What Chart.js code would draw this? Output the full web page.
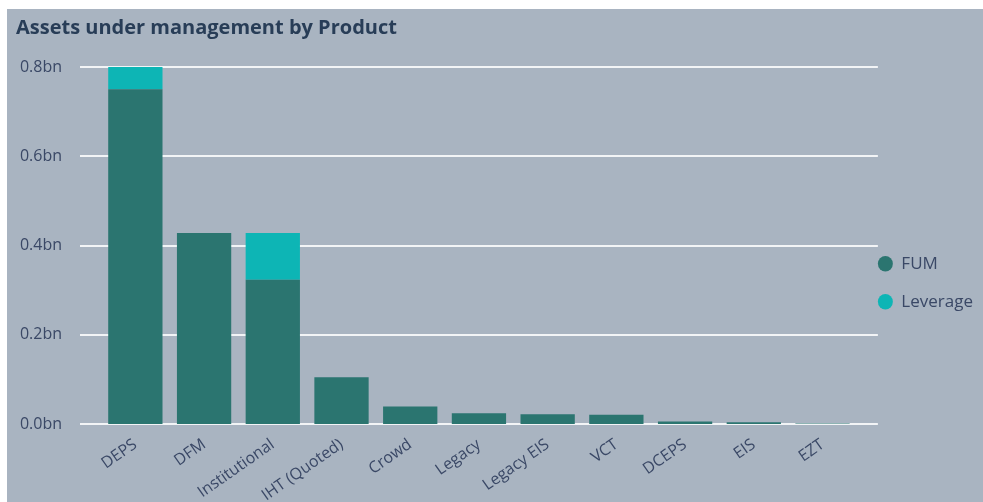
<!DOCTYPE html>
<html>
<head>
<meta charset="utf-8">
<script src="https://cdn.jsdelivr.net/npm/chart.js@4.4.1/dist/chart.umd.min.js"></script>
<style>
  html, body { margin: 0; padding: 0; background: #ffffff; }
  #panel { position: absolute; left: 7px; top: 9px; width: 976px; height: 493px; background: #a9b4c1; }
</style>
</head>
<body>
<div id="panel"><canvas id="myChart" width="976" height="493"></canvas></div>
<script>
// products, values in billions
const products = ['DEPS', 'DFM', 'Institutional', 'IHT (Quoted)', 'Crowd', 'Legacy', 'Legacy EIS', 'VCT', 'DCEPS', 'EIS', 'EZT'];
const fum = [0.75, 0.428, 0.323, 0.105, 0.039, 0.024, 0.022, 0.021, 0.0056, 0.004, 0.001];
const leverage = [0.05, 0, 0.105, 0, 0, 0, 0, 0, 0, 0, 0];
const yTicks = [0, 0.2, 0.4, 0.6, 0.8];

const fontFam = "'Open Sans', sans-serif";

// grid lines in the report run a bit past the bars on both sides
const wideGrid = {
  id: 'wideGrid',
  beforeDatasetsDraw(chart) {
    const ctx = chart.ctx;
    const area = chart.chartArea;
    const y = chart.scales.y;
    ctx.save();
    ctx.strokeStyle = 'rgba(255,255,255,0.85)';
    ctx.lineWidth = 2;
    y.ticks.forEach(function (t) {
      const py = Math.round(y.getPixelForValue(t.value));
      ctx.beginPath();
      ctx.moveTo(area.left - 21, py);
      ctx.lineTo(area.right + 21, py);
      ctx.stroke();
    });
    ctx.restore();
  }
};

const data = {
  labels: products,
  datasets: [{
    label: 'FUM',
    data: fum,
    backgroundColor: '#2b7570',
    borderColor: '#2b7570',
    stack: 's'
  }, {
    label: 'Leverage',
    data: leverage,
    backgroundColor: '#0db5b5',
    borderColor: '#0db5b5',
    stack: 's'
  }]
};

const config = {
  type: 'bar',
  data: data,
  options: {
    responsive: false,
    animation: false,
    layout: { padding: { left: 9, right: 0, top: 0, bottom: 0 } },
    datasets: { bar: { categoryPercentage: 1, barPercentage: 0.79 } },
    plugins: {
      title: {
        display: true,
        text: 'Assets under management by Product',
        align: 'start',
        color: '#283d57',
        font: { family: fontFam, size: 20, weight: 'bold' },
        padding: { top: 7, bottom: 27 }
      },
      legend: {
        position: 'right',
        align: 'center',
        // empty title only pushes the items down a little
        title: { display: true, text: '', padding: { top: 40, bottom: 0 } },
        labels: {
          usePointStyle: true,
          pointStyle: 'circle',
          boxHeight: 11,
          pointStyleWidth: 15,
          padding: 21,
          color: '#3a4866',
          font: { family: fontFam, size: 17 }
        }
      },
      tooltip: { enabled: false }
    },
    scales: {
      x: {
        stacked: true,
        grid: { display: false },
        border: { display: false },
        ticks: {
          autoSkip: false,
          minRotation: 35,
          maxRotation: 35,
          color: '#3a4866',
          font: { family: fontFam, size: 16 }
        },
        afterFit: function (scale) { scale.height = 78; }
      },
      y: {
        stacked: true,
        min: 0,
        max: 0.8,
        grid: { display: false, drawTicks: false },
        border: { display: false },
        afterBuildTicks: function (scale) {
          scale.ticks = yTicks.map(function (v) { return { value: v }; });
        },
        ticks: {
          padding: 39,
          color: '#3a4866',
          font: { family: fontFam, size: 16 },
          callback: function (v) { return v.toFixed(1) + 'bn'; }
        },
        afterFit: function (scale) { scale.width = 85; }
      }
    }
  },
  plugins: [wideGrid]
};

const myChart = new Chart(document.getElementById('myChart'), config);
</script>
</body>
</html>
